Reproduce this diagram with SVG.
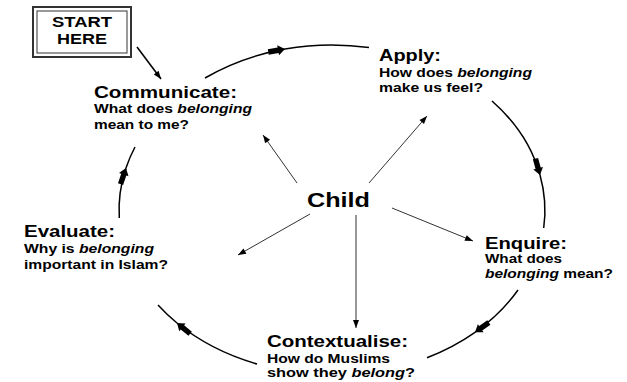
<svg xmlns="http://www.w3.org/2000/svg" width="627" height="382" viewBox="0 0 627 382">
<style>
text{font-family:"Liberation Sans",Arial,sans-serif;font-weight:bold;fill:#000}
.h{font-size:16px}
.s{font-size:12px}
.i{font-style:italic}
.cyc{fill:none;stroke:#000;stroke-width:1.5}
.thin{fill:none;stroke:#333;stroke-width:1}
</style>
<defs>
<marker id="big" markerUnits="userSpaceOnUse" markerWidth="26" markerHeight="14" viewBox="-19 -7 20 14" refX="0" refY="0" orient="auto">
<path d="M-17,-2.7 L-7,-2.7 L-7,-5 L0,0 L-7,5 L-7,2.7 L-17,2.7 Z" fill="#000"/>
</marker>
<marker id="sm" markerUnits="userSpaceOnUse" markerWidth="10" markerHeight="8" viewBox="-9 -4 10 8" refX="0" refY="0" orient="auto">
<path d="M-8,-3 L0,0 L-8,3 Z" fill="#000"/>
</marker>
</defs>
<g id="start">
<rect x="33" y="7" width="98" height="50" fill="#fff" stroke="#333" stroke-width="2"/>
<rect x="37" y="11" width="90" height="42" fill="none" stroke="#555" stroke-width="1.2"/>
<text x="82" y="27" font-size="14" text-anchor="middle" textLength="60" lengthAdjust="spacingAndGlyphs">START</text>
<text x="82" y="44" font-size="14" text-anchor="middle" textLength="50" lengthAdjust="spacingAndGlyphs">HERE</text>
</g>
<g id="connectors">
<line x1="137" y1="47" x2="161" y2="79" stroke="#000" stroke-width="1.5" marker-end="url(#sm)"/>
<path class="cyc" d="M205,78 A213,165 0 0 1 285,49" marker-end="url(#big)"/>
<path class="cyc" d="M285,49 A213,165 0 0 1 369,47.5"/>
<path class="cyc" d="M492,101 A213,165 0 0 1 540,175" marker-end="url(#big)"/>
<path class="cyc" d="M540,175 A213,165 0 0 1 543.7,228"/>
<path class="cyc" d="M518,290 A213,165 0 0 1 475,332.3" marker-end="url(#big)"/>
<path class="cyc" d="M475,332.3 A213,165 0 0 1 427,357.7"/>
<path class="cyc" d="M257,364 A213,165 0 0 1 177,323" marker-end="url(#big)"/>
<path class="cyc" d="M177,323 A213,165 0 0 1 158,305"/>
<path class="cyc" d="M119.3,218 A213,165 0 0 1 126,168" marker-end="url(#big)"/>
<path class="cyc" d="M126,168 A213,165 0 0 1 135,147"/>
<line class="thin" x1="297" y1="183" x2="263" y2="135" marker-end="url(#sm)"/>
<line class="thin" x1="369" y1="183" x2="427" y2="116" marker-end="url(#sm)"/>
<line class="thin" x1="392" y1="208" x2="473" y2="241" marker-end="url(#sm)"/>
<line class="thin" x1="356" y1="215" x2="356" y2="328" marker-end="url(#sm)"/>
<line class="thin" x1="310" y1="214" x2="238" y2="255" marker-end="url(#sm)"/>
</g>
<g id="child">
<text x="307" y="207" font-size="21" textLength="63" lengthAdjust="spacingAndGlyphs">Child</text>
</g>
<g id="communicate">
<text class="h" x="94" y="97.5" textLength="143" lengthAdjust="spacingAndGlyphs">Communicate:</text>
<text class="s" x="94" y="113" textLength="158" lengthAdjust="spacingAndGlyphs">What does <tspan class="i">belonging</tspan></text>
<text class="s" x="94" y="128.5" textLength="95" lengthAdjust="spacingAndGlyphs">mean to me?</text>
</g>
<g id="apply">
<text class="h" x="379" y="61" textLength="62" lengthAdjust="spacingAndGlyphs">Apply:</text>
<text class="s" x="379" y="77" textLength="153" lengthAdjust="spacingAndGlyphs">How does <tspan class="i">belonging</tspan></text>
<text class="s" x="379" y="92" textLength="104" lengthAdjust="spacingAndGlyphs">make us feel?</text>
</g>
<g id="enquire">
<text class="h" x="485" y="248.5" textLength="82" lengthAdjust="spacingAndGlyphs">Enquire:</text>
<text class="s" x="485" y="263" textLength="77" lengthAdjust="spacingAndGlyphs">What does</text>
<text class="s" x="485" y="278" textLength="128" lengthAdjust="spacingAndGlyphs"><tspan class="i">belonging</tspan> mean?</text>
</g>
<g id="contextualise">
<text class="h" x="267" y="346.5" textLength="141" lengthAdjust="spacingAndGlyphs">Contextualise:</text>
<text class="s" x="267" y="362.5" textLength="123" lengthAdjust="spacingAndGlyphs">How do Muslims</text>
<text class="s" x="267" y="376.5" textLength="148" lengthAdjust="spacingAndGlyphs">show they <tspan class="i">belong</tspan>?</text>
</g>
<g id="evaluate">
<text class="h" x="24" y="236.5" textLength="91" lengthAdjust="spacingAndGlyphs">Evaluate:</text>
<text class="s" x="24" y="253" textLength="130" lengthAdjust="spacingAndGlyphs">Why is <tspan class="i">belonging</tspan></text>
<text class="s" x="24" y="269" textLength="144" lengthAdjust="spacingAndGlyphs">important in Islam?</text>
</g>
</svg>
